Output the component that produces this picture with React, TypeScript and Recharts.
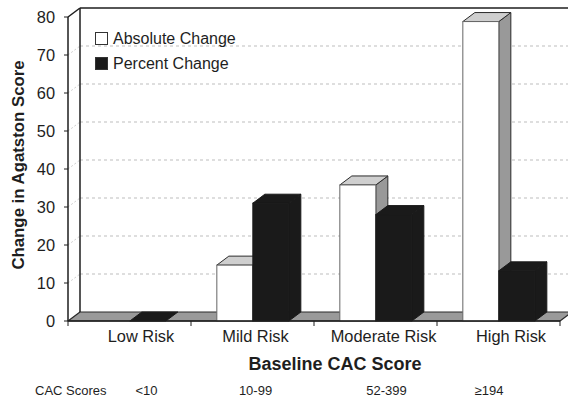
import React from 'react';
import { BarChart, Bar, XAxis, YAxis, CartesianGrid, Legend } from 'recharts';

// ---- data ----
const categories = ['Low Risk', 'Mild Risk', 'Moderate Risk', 'High Risk'];
const absoluteChange = [0, 14.7, 35.8, 78.8];
const percentChange = [0, 31.0, 28.0, 13.2];
const cacScores = ['<10', '10-99', '52-399', '\u2265194'];
const yTicks = [0, 10, 20, 30, 40, 50, 60, 70, 80];

const data = categories.map((c, i) => ({
  category: c,
  absolute: absoluteChange[i],
  percent: percentChange[i],
}));

// ---- layout / style ----
const W = 568;
const H = 398;
const DX = 12; // 3D depth offset
const DY = 9;
const FONT = '"Liberation Sans", Arial, Helvetica, sans-serif';
const INK = '#1e1e1e';
const LABEL_NUDGE = [11.5, 3, 8, 12.5];
const SCORE_NUDGE = [17, 3, 11, -9.5];

type BoxProps = {
  x: number; y: number; width: number; height: number;
  front: string; top: string; side: string; edge: string; frontEdge: string;
  hideFlat?: boolean;
};

const Box3D = ({ x, y, width: w, height: h, front, top, side, edge, frontEdge, hideFlat }: BoxProps) => {
  if (x == null || y == null) return null;
  const hh = Math.max(0, h || 0);
  if (hh < 0.5 && hideFlat) return null;
  const topPts = `${x},${y} ${x + DX},${y - DY} ${x + w + DX},${y - DY} ${x + w},${y}`;
  const sidePts = `${x + w},${y} ${x + w + DX},${y - DY} ${x + w + DX},${y + hh - DY} ${x + w},${y + hh}`;
  return (
    <g>
      {hh > 0 && <polygon points={sidePts} fill={side} stroke={edge} strokeWidth={1} strokeLinejoin="round" />}
      <polygon points={topPts} fill={top} stroke={edge} strokeWidth={1} strokeLinejoin="round" />
      {hh > 0 && <rect x={x} y={y} width={w} height={hh} fill={front} stroke={frontEdge} strokeWidth={1} />}
    </g>
  );
};

const absShape = (p: any) => (
  <Box3D x={p.x} y={p.y} width={p.width} height={p.height}
    front="#ffffff" top="#cfcfcf" side="#999999" edge="#2a2a2a" frontEdge="#666666" hideFlat />
);
const pctShape = (p: any) => (
  <Box3D x={p.x} y={p.y} width={p.width} height={p.height}
    front="#1a1a1a" top="#1a1a1a" side="#1a1a1a" edge="#1a1a1a" frontEdge="#1a1a1a" />
);

// Back wall grid, left wall, floor, drawn from the grid's own line coordinates
const renderHLine = (p: any) => {
  const { x1, x2, y1, index } = p;
  const top = p.y != null ? p.y : null;
  const bottom = p.y != null && p.height != null ? p.y + p.height : null;
  const isBottom = bottom != null && Math.abs(y1 - bottom) < 0.5;
  const isTop = top != null && Math.abs(y1 - top) < 0.5;
  const key = `hl-${index}-${y1}`;
  if (isBottom) {
    const n = categories.length;
    const ticks = [];
    for (let i = 0; i <= n; i++) {
      const tx = x1 + (i * (x2 - x1)) / n;
      ticks.push(<line key={`t${i}`} x1={tx} y1={y1} x2={tx} y2={y1 + 5} stroke={INK} strokeWidth={1} />);
    }
    return (
      <g key={key}>
        <polygon
          points={`${x1},${y1} ${x1 + DX},${y1 - DY} ${x2 + DX},${y1 - DY} ${x2},${y1}`}
          fill="#9a9a9a" stroke="#2a2a2a" strokeWidth={1.2} strokeLinejoin="round"
        />
        {ticks}
      </g>
    );
  }
  if (isTop) {
    return (
      <g key={key}>
        <line x1={x1 + DX} y1={y1 - DY} x2={x2 + DX} y2={y1 - DY} stroke={INK} strokeWidth={1.5} />
        <line x1={x1} y1={y1} x2={x1 + DX} y2={y1 - DY} stroke={INK} strokeWidth={1.5} />
        {bottom != null && (
          <line x1={x1 + DX} y1={y1 - DY} x2={x1 + DX} y2={bottom - DY} stroke={INK} strokeWidth={1.5} />
        )}
      </g>
    );
  }
  return (
    <g key={key}>
      <line x1={x1 + DX} y1={y1 - DY} x2={x2 + DX} y2={y1 - DY} stroke="#bdbdbd" strokeWidth={1} strokeDasharray="3 3" />
      <line x1={x1} y1={y1} x2={x1 + DX} y2={y1 - DY} stroke="#d0d0d0" strokeWidth={1} strokeDasharray="2 2" />
    </g>
  );
};

const renderXTick = (p: any) => {
  const i = p.index != null ? p.index : p.payload?.index ?? 0;
  return (
    <g>
      <text x={p.x + (LABEL_NUDGE[i] || 0)} y={p.y + 21} textAnchor="middle" fontSize={16.4} fill={INK} fontFamily={FONT}>
        {p.payload.value}
      </text>
      <text x={p.x + (SCORE_NUDGE[i] || 0)} y={p.y + 74} textAnchor="middle" fontSize={13} fill={INK} fontFamily={FONT}>
        {cacScores[i]}
      </text>
    </g>
  );
};

const XTitle = (props: any) => {
  const vb = props.viewBox || { x: 68, y: 321, width: 492, height: 30 };
  return (
    <g>
      <text x={vb.x + vb.width / 2 + 21} y={vb.y + 49} textAnchor="middle" fontSize={18} fontWeight="bold" fill={INK} fontFamily={FONT}>
        Baseline CAC Score
      </text>
      <text x={vb.x - 33} y={vb.y + 74} textAnchor="start" fontSize={13} fill={INK} fontFamily={FONT}>
        CAC Scores
      </text>
    </g>
  );
};

const YTitle = (props: any) => {
  const vb = props.viewBox || { x: 8, y: 17, width: 60, height: 304 };
  const cx = vb.x + 16;
  const cy = vb.y + vb.height / 2 - 4;
  return (
    <text x={cx} y={cy} transform={`rotate(-90 ${cx} ${cy})`} textAnchor="middle" fontSize={16.8} fontWeight="bold" fill={INK} fontFamily={FONT}>
      Change in Agatston Score
    </text>
  );
};

const LegendContent = (props: any) => {
  const items = props.payload || [];
  return (
    <div style={{ fontFamily: FONT, fontSize: 16, color: INK, lineHeight: '25px' }}>
      {items.map((it: any, i: number) => (
        <div key={i} style={{ display: 'flex', alignItems: 'center', whiteSpace: 'nowrap' }}>
          <span style={{ display: 'inline-block', width: 11, height: 11, background: it.color, border: '1px solid #333', marginRight: 5 }} />
          <span>{it.value}</span>
        </div>
      ))}
    </div>
  );
};

export default function App() {
  return (
    <div style={{ position: 'absolute', left: 0, top: 0, width: W, height: H, background: '#fff', fontFamily: FONT }}>
      <BarChart
        width={W}
        height={H}
        data={data}
        margin={{ top: 17, right: 8, left: 8, bottom: 47 }}
        barCategoryGap="21%"
        barGap={0}
      >
        <CartesianGrid vertical={false} horizontal={renderHLine} stroke="#bdbdbd" />
        <XAxis
          dataKey="category"
          height={30}
          interval={0}
          tickLine={false}
          tickSize={0}
          tickMargin={0}
          axisLine={{ stroke: INK, strokeWidth: 1.5 }}
          tick={renderXTick}
          label={<XTitle />}
        />
        <YAxis
          domain={[0, 80]}
          ticks={yTicks}
          interval={0}
          width={60}
          tickSize={4}
          tickMargin={9}
          axisLine={{ stroke: INK, strokeWidth: 1.5 }}
          tickLine={{ stroke: INK }}
          tick={{ fontSize: 16.4, fill: INK, fontFamily: FONT }}
          label={<YTitle />}
        />
        <Legend
          layout="vertical"
          align="center"
          verticalAlign="middle"
          wrapperStyle={{ left: 95, top: 26, width: 'auto', height: 'auto' }}
          content={<LegendContent />}
        />
        <Bar dataKey="absolute" name="Absolute Change" fill="#ffffff" isAnimationActive={false} shape={absShape} />
        <Bar dataKey="percent" name="Percent Change" fill="#1a1a1a" isAnimationActive={false} shape={pctShape} />
      </BarChart>
    </div>
  );
}
